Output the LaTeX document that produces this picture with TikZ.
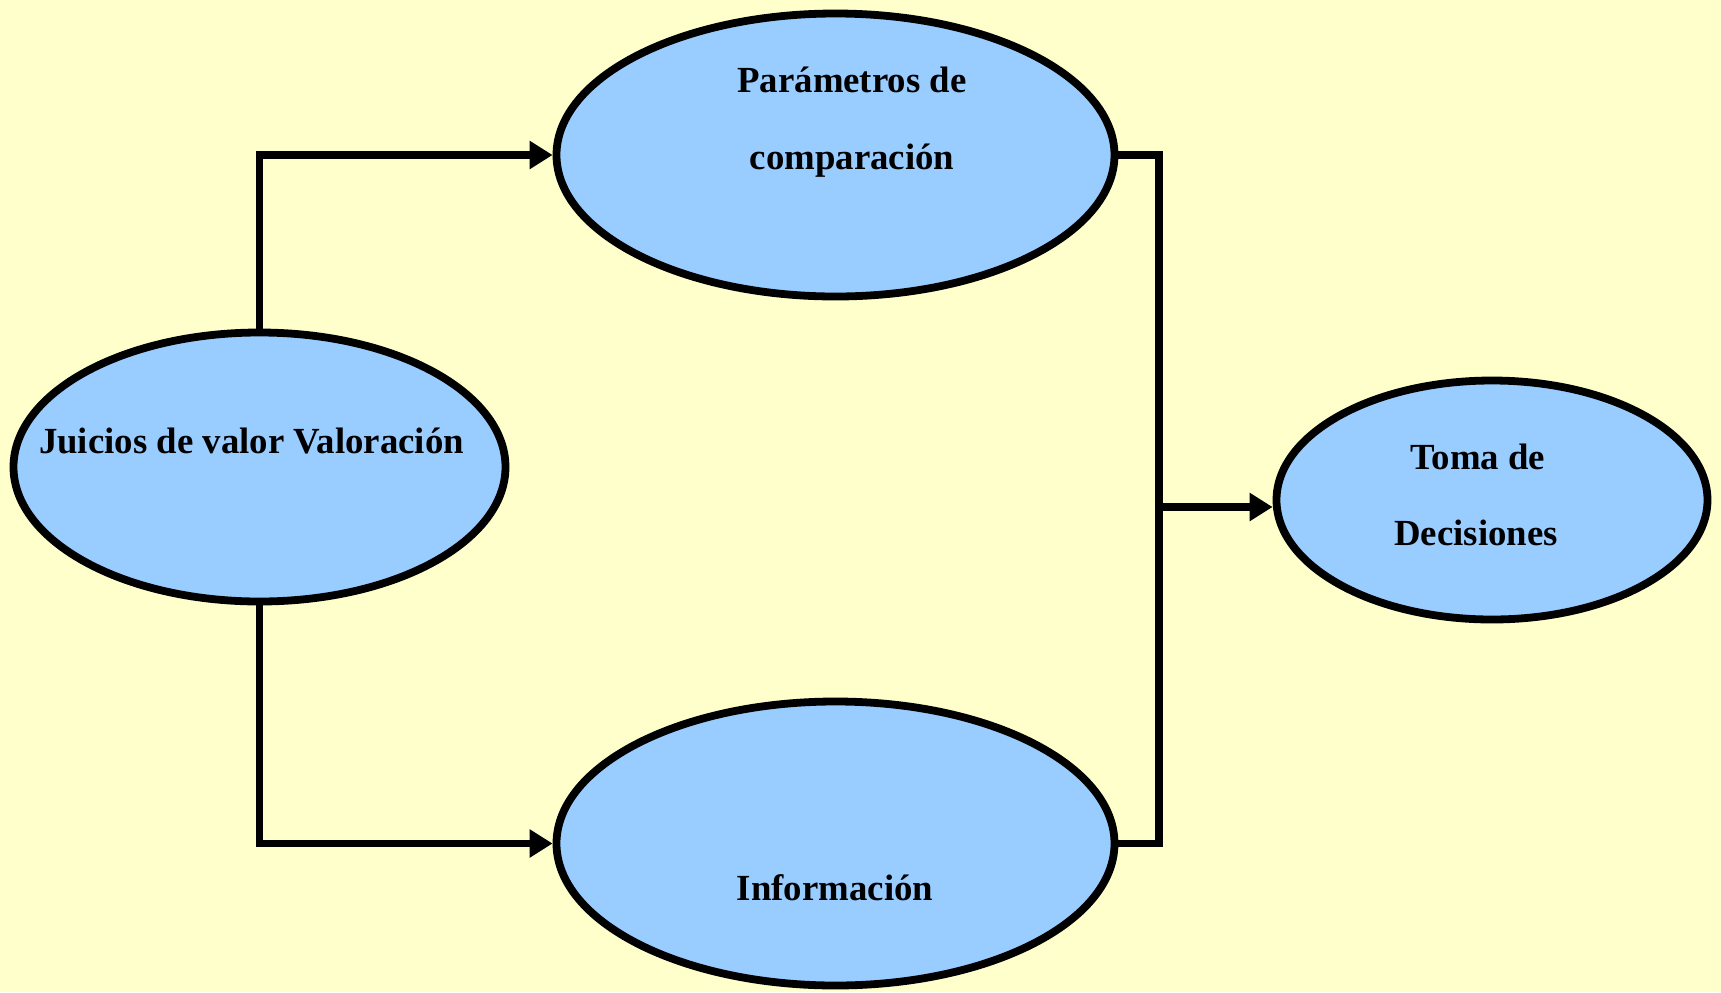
\documentclass[tikz,border=0pt]{standalone}
\usepackage{fontspec}
\setmainfont{Liberation Serif}
\usetikzlibrary{shapes.geometric,arrows.meta}
\definecolor{paleyellow}{HTML}{FFFFCC}
\definecolor{skyblue}{HTML}{99CCFF}
\begin{document}
\begin{tikzpicture}[x=0.5pt,y=-0.5pt,
    bubble/.style={ellipse,draw,fill=skyblue,line width=3.9pt,inner sep=0pt},
    txt/.style={anchor=base,inner sep=0pt,font=\bfseries\fontsize{18.4pt}{22pt}\selectfont},
    link/.style={line width=3.9pt},
    arrow/.style={link,-{Triangle[length=11.5pt,width=13.5pt]}}]
    \path[use as bounding box,fill=paleyellow] (0,0) rectangle (1721,992);
    \node[bubble,minimum width=246pt,minimum height=134.5pt] (juicios) at (259.5,467) {};
    \node[bubble,minimum width=279pt,minimum height=141.5pt] (param) at (835.5,155) {};
    \node[bubble,minimum width=279pt,minimum height=142pt] (info) at (835.5,843.5) {};
    \node[bubble,minimum width=215.5pt,minimum height=119.5pt] (toma) at (1492,500) {};
    \node[txt] (juiciosTxt) at (251.5,453) {Juicios de valor Valoración};
    \node[txt] (paramTxtA) at (852,92) {Parámetros de};
    \node[txt] (paramTxtB) at (852,169) {comparación};
    \node[txt] (tomaTxtA) at (1478,469) {Toma de};
    \node[txt] (tomaTxtB) at (1476,545) {Decisiones};
    \node[txt] (infoTxt) at (835,900) {Información};
    % connectors
    \draw[arrow] (juicios.north) |- (param.west);
    \draw[arrow] (juicios.south) |- (info.west);
    \coordinate (bus) at (1159,507);
    \draw[link] (param.east) -| (bus) |- (info.east);
    \draw[arrow] (bus) -- (bus -| toma.west);
\end{tikzpicture}
\end{document}
